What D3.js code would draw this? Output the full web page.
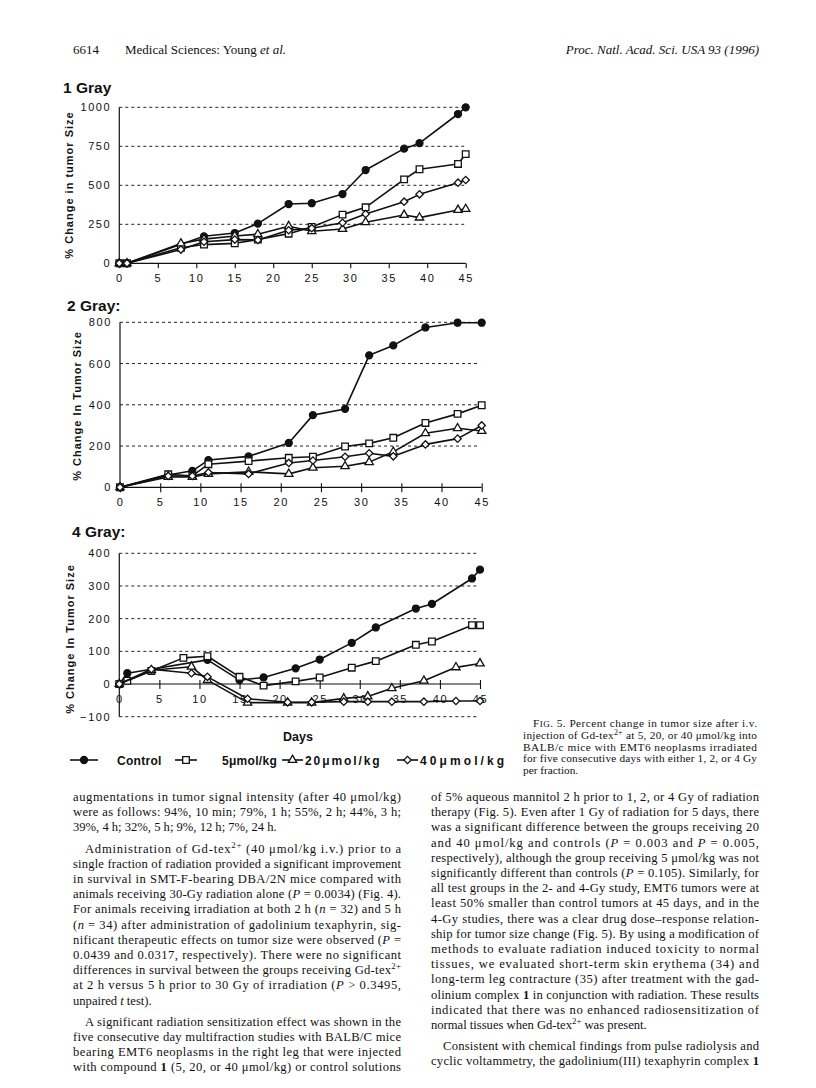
<!DOCTYPE html>
<html>
<head>
<meta charset="utf-8">
<script src="https://cdn.jsdelivr.net/npm/d3@7"></script>
<style>
  body { margin: 0; background: #fff; }
  svg { display: block; }
</style>
</head>
<body>
<script>
// ---- data (percent change in tumor size vs day) ----
const seriesNames = ["Control", "5\u03bcmol/kg", "20\u03bcmol/kg", "40\u03bcmol/kg"];
const xTickValues = [0, 5, 10, 15, 20, 25, 30, 35, 40, 45];

const gray1Days    = [0, 1, 8, 11, 15, 18, 22, 25, 29, 32, 37, 39, 44, 45];
const gray1Control = [0, 0, null, 173, 194, 254, 380, 385, 444, 598, 735, 770, 957, 1000];
const gray1Dose5   = [0, 0, 100, 120, 128, 152, 190, 233, 312, 359, 538, 603, 637, 700];
const gray1Dose20  = [0, 0, 127, 155, 175, 186, 238, 205, 220, 263, 310, 293, 342, 348];
const gray1Dose40  = [0, 0, 88, 138, 152, 150, 212, 225, 260, 316, 395, 442, 517, 534];
const gray1YTicks  = [0, 250, 500, 750, 1000];

const gray2Days    = [0, 6, 9, 11, 16, 21, 24, 28, 31, 34, 38, 42, 45];
const gray2Control = [0, 60, 80, 132, 150, 215, 350, 380, 640, 688, 775, 798, 798];
const gray2Dose5   = [0, 63, 55, 112, 127, 143, 148, 198, 213, 240, 312, 356, 398];
const gray2Dose20  = [0, 50, 50, 65, 75, 65, 95, 102, 122, 172, 262, 286, 273];
const gray2Dose40  = [0, 55, 55, 72, 65, 118, 130, 148, 165, 150, 208, 236, 300];
const gray2YTicks  = [0, 200, 400, 600, 800];

const gray4Days    = [0, 1, 4, 8, 9, 11, 15, 16, 18, 21, 22, 24, 25, 28, 29, 31, 32, 34, 37, 38, 39, 42, 44, 45];
const gray4Control = [0, 33, null, null, null, 74, 12, null, 20, null, 48, null, 75, null, 126, null, 173, null, 231, null, 245, null, 323, 350];
const gray4Dose5   = [0, 10, 40, 80, null, 85, 22, null, -5, null, 8, null, 20, null, 50, null, 70, null, 120, null, 130, null, 180, 180];
const gray4Dose20  = [0, null, 42, null, 53, 12, null, -57, null, -57, null, -57, null, -44, null, -38, null, -13, null, 10, null, 51, null, 63];
const gray4Dose40  = [0, null, 45, null, 33, 22, null, -45, null, -56, null, -56, null, -54, null, -54, null, -54, null, -54, null, -52, null, -52];
const gray4YTicks  = [-100, 0, 100, 200, 300, 400];

// ---- page layout ----
const W = 816, H = 1088;
const sans = "'Liberation Sans', Arial, Helvetica, sans-serif";
const serif = "'Liberation Serif', 'Times New Roman', Times, serif";

const svg = d3.select("body").append("svg")
    .attr("width", W).attr("height", H)
    .attr("viewBox", [0, 0, W, H]);

const panels = [
  { title: "1 Gray", tx: 63, ty: 93, days: gray1Days,
    series: [gray1Control, gray1Dose5, gray1Dose20, gray1Dose40],
    yTicks: gray1YTicks, grid: [250, 500, 750, 1000], dom: [0, 1000],
    left: 119.3, right: 465.7, top: 107.3, bottom: 263.3,
    ylab: "% Change in tumor Size", labX: 73, labY: 185, cross: false },
  { title: "2 Gray:", tx: 67, ty: 311, days: gray2Days,
    series: [gray2Control, gray2Dose5, gray2Dose20, gray2Dose40],
    yTicks: gray2YTicks, grid: [200, 400, 600, 800], dom: [0, 800],
    left: 120, right: 481.7, top: 322.3, bottom: 487.3,
    ylab: "% Change In Tumor Size", labX: 80.5, labY: 406, cross: true },
  { title: "4 Gray:", tx: 72, ty: 537, days: gray4Days,
    series: [gray4Control, gray4Dose5, gray4Dose20, gray4Dose40],
    yTicks: gray4YTicks, grid: [-100, 100, 200, 300, 400], dom: [-100, 400],
    left: 119.3, right: 480, top: 553.3, bottom: 716.7,
    ylab: "% Change In Tumor Size", labX: 74, labY: 639, cross: true }
];

const symbols = [
  { type: d3.symbolCircle, size: 38, fill: "#111", rot: 0 },
  { type: d3.symbolSquare, size: 44, fill: "#fff", rot: 0 },
  { type: d3.symbolTriangle, size: 30, fill: "#fff", rot: 0 },
  { type: d3.symbolSquare, size: 27, fill: "#fff", rot: 45 }
];

const drawMarker = (g, k, x, y) => {
  const s = symbols[k];
  g.append("path")
    .attr("d", d3.symbol().type(s.type).size(s.size)())
    .attr("transform", `translate(${x},${y}) rotate(${s.rot})`)
    .attr("fill", s.fill)
    .attr("stroke", "#111")
    .attr("stroke-width", 1.3);
};

panels.forEach(p => {
  const g = svg.append("g");
  const x = d3.scaleLinear().domain([0, 45]).range([p.left, p.right]);
  const y = d3.scaleLinear().domain(p.dom).range([p.bottom, p.top]);

  g.append("text")
    .attr("x", p.tx).attr("y", p.ty)
    .attr("font-family", sans).attr("font-weight", "bold")
    .attr("font-size", 15.5).attr("fill", "#111")
    .text(p.title);

  // dashed gridlines
  g.selectAll(".grid").data(p.grid).enter().append("line")
    .attr("x1", x(0)).attr("x2", x(44.8))
    .attr("y1", d => y(d)).attr("y2", d => y(d))
    .attr("stroke", "#222").attr("stroke-width", 1)
    .attr("stroke-dasharray", "3,3");

  // y axis
  const ya = g.append("g")
    .attr("transform", `translate(${x(0)},0)`)
    .call(d3.axisLeft(y).tickValues(p.yTicks).tickFormat(d3.format("d"))
      .tickSize(0).tickPadding(8));
  ya.select(".domain").attr("stroke", "#111").attr("stroke-width", 1.2)
    .attr("d", `M0,${y(p.dom[1])}V${y(p.dom[0])}`);
  ya.selectAll("text")
    .attr("font-family", sans).attr("font-size", 11)
    .attr("letter-spacing", 1.6).attr("fill", "#111");

  // x axis at y = 0
  const xa = g.append("g")
    .attr("transform", `translate(0,${y(0)})`)
    .call(d3.axisBottom(x).tickValues(xTickValues).tickSize(5).tickPadding(6));
  xa.select(".domain").attr("stroke", "#111").attr("stroke-width", 1.2)
    .attr("d", `M${x(0)},0H${x(45)}`);
  xa.selectAll(".tick line").attr("stroke", "#111").attr("stroke-width", 1.1)
    .attr("y1", p.cross ? -4 : 0);
  xa.selectAll("text")
    .attr("font-family", sans).attr("font-size", 11)
    .attr("letter-spacing", 1.6).attr("fill", "#111");

  // y axis title
  g.append("text")
    .attr("transform", `translate(${p.labX},${p.labY}) rotate(-90)`)
    .attr("text-anchor", "middle")
    .attr("font-family", sans).attr("font-weight", "bold")
    .attr("font-size", 11).attr("letter-spacing", 1)
    .attr("fill", "#111")
    .text(p.ylab);

  // series
  const line = d3.line().x(d => x(d[0])).y(d => y(d[1]));
  p.series.forEach((vals, k) => {
    const pts = p.days.map((d, i) => [d, vals[i]]).filter(d => d[1] != null);
    g.append("path").datum(pts)
      .attr("d", line)
      .attr("fill", "none").attr("stroke", "#111")
      .attr("stroke-width", 1.6).attr("stroke-linejoin", "round");
    pts.forEach(d => drawMarker(g, k, x(d[0]), y(d[1])));
  });
});

// x title
svg.append("text")
  .attr("x", 298).attr("y", 741)
  .attr("text-anchor", "middle")
  .attr("font-family", sans).attr("font-weight", "bold")
  .attr("font-size", 12.5).attr("fill", "#111")
  .text("Days");

// legend
const legendY = 760;
const legendItems = [
  { x0: 70, x1: 98, tx: 117, ls: 0.3 },
  { x0: 175, x1: 197, tx: 222, ls: 0.3 },
  { x0: 282, x1: 303, tx: 305, ls: 1.9 },
  { x0: 397, x1: 418, tx: 420, ls: 3.1 }
];
const lg = svg.append("g");
seriesNames.forEach((name, k) => {
  const it = legendItems[k];
  lg.append("line")
    .attr("x1", it.x0).attr("x2", it.x1)
    .attr("y1", legendY).attr("y2", legendY)
    .attr("stroke", "#111").attr("stroke-width", 1.6);
  drawMarker(lg, k, (it.x0 + it.x1) / 2, legendY);
  lg.append("text")
    .attr("x", it.tx).attr("y", legendY + 4.5)
    .attr("font-family", sans).attr("font-weight", "bold")
    .attr("font-size", 12).attr("letter-spacing", it.ls)
    .attr("fill", "#111")
    .text(name);
});

// ---- running text of the page ----
// markup: ^{..} superscript, *..* italic, **..** bold
const richText = (g, str, x, y, size, width) => {
  const t = g.append("text")
    .attr("x", x).attr("y", y)
    .attr("font-family", serif).attr("font-size", size)
    .attr("fill", "#111");
  const parts = str.split(/(\^\{[^}]*\}|\*\*[^*]+\*\*|\*[^*]+\*)/).filter(s => s);
  let raised = false;
  parts.forEach(s => {
    const ts = t.append("tspan");
    if (s.startsWith("^{")) {
      ts.text(s.slice(2, -1)).attr("dy", -size * 0.38).attr("font-size", size * 0.7);
      raised = true;
      return;
    }
    if (raised) { ts.attr("dy", size * 0.38); raised = false; }
    if (s.startsWith("**")) ts.text(s.slice(2, -2)).attr("font-weight", "bold");
    else if (s.startsWith("*")) ts.text(s.slice(1, -1)).attr("font-style", "italic");
    else ts.text(s);
  });
  if (width) t.attr("textLength", width).attr("lengthAdjust", "spacing");
  return t;
};

const tg = svg.append("g");

// running head
richText(tg, "6614", 73, 54, 13);
richText(tg, "Medical Sciences: Young *et al.*", 125, 54, 13);
richText(tg, "*Proc. Natl. Acad. Sci. USA 93 (1996)*", 0, 54, 13)
  .attr("x", 759).attr("text-anchor", "end");

// caption
const captionLines = [
  ["injection of Gd-tex^{2+} at 5, 20, or 40 \u03bcmol/kg into", true],
  ["BALB/c mice with EMT6 neoplasms irradiated", true],
  ["for five consecutive days with either 1, 2, or 4 Gy", true],
  ["per fraction.", false]
];
const capX = 523, capR = 757, capY = 727, capStep = 11.8, capSize = 11.3;
{
  const t = tg.append("text").attr("x", capX + 10).attr("y", capY)
    .attr("font-family", serif).attr("font-size", capSize).attr("fill", "#111")
    .attr("textLength", capR - capX - 10).attr("lengthAdjust", "spacing");
  t.append("tspan").text("F");
  t.append("tspan").attr("font-size", capSize * 0.8).text("IG");
  t.append("tspan").text(". 5.    Percent change in tumor size after i.v.");
}
captionLines.forEach((l, i) => {
  richText(tg, l[0], capX, capY + (i + 1) * capStep, capSize, l[1] ? capR - capX : null);
});

const leftLines = [
  ["augmentations in tumor signal intensity (after 40 \u03bcmol/kg)", 1, 0],
  ["were as follows: 94%, 10 min; 79%, 1 h; 55%, 2 h; 44%, 3 h;", 1, 0],
  ["39%, 4 h; 32%, 5 h; 9%, 12 h; 7%, 24 h.", 0, 0],
  ["Administration of Gd-tex^{2+} (40 \u03bcmol/kg i.v.) prior to a", 1, 1],
  ["single fraction of radiation provided a significant improvement", 1, 0],
  ["in survival in SMT-F-bearing DBA/2N mice compared with", 1, 0],
  ["animals receiving 30-Gy radiation alone (*P* = 0.0034) (Fig. 4).", 1, 0],
  ["For animals receiving irradiation at both 2 h (*n* = 32) and 5 h", 1, 0],
  ["(*n* = 34) after administration of gadolinium texaphyrin, sig-", 1, 0],
  ["nificant therapeutic effects on tumor size were observed (*P* =", 1, 0],
  ["0.0439 and 0.0317, respectively). There were no significant", 1, 0],
  ["differences in survival between the groups receiving Gd-tex^{2+}", 1, 0],
  ["at 2 h versus 5 h prior to 30 Gy of irradiation (*P* > 0.3495,", 1, 0],
  ["unpaired *t* test).", 0, 0],
  ["A significant radiation sensitization effect was shown in the", 1, 1],
  ["five consecutive day multifraction studies with BALB/C mice", 1, 0],
  ["bearing EMT6 neoplasms in the right leg that were injected", 1, 0],
  ["with compound **1** (5, 20, or 40 \u03bcmol/kg) or control solutions", 1, 0]
];
const rightLines = [
  ["of 5% aqueous mannitol 2 h prior to 1, 2, or 4 Gy of radiation", 1, 0],
  ["therapy (Fig. 5). Even after 1 Gy of radiation for 5 days, there", 1, 0],
  ["was a significant difference between the groups receiving 20", 1, 0],
  ["and 40 \u03bcmol/kg and controls (*P* = 0.003 and *P* = 0.005,", 1, 0],
  ["respectively), although the group receiving 5 \u03bcmol/kg was not", 1, 0],
  ["significantly different than controls (*P* = 0.105). Similarly, for", 1, 0],
  ["all test groups in the 2- and 4-Gy study, EMT6 tumors were at", 1, 0],
  ["least 50% smaller than control tumors at 45 days, and in the", 1, 0],
  ["4-Gy studies, there was a clear drug dose\u2013response relation-", 1, 0],
  ["ship for tumor size change (Fig. 5). By using a modification of", 1, 0],
  ["methods to evaluate radiation induced toxicity to normal", 1, 0],
  ["tissues, we evaluated short-term skin erythema (34) and", 1, 0],
  ["long-term leg contracture (35) after treatment with the gad-", 1, 0],
  ["olinium complex **1** in conjunction with radiation. These results", 1, 0],
  ["indicated that there was no enhanced radiosensitization of", 1, 0],
  ["normal tissues when Gd-tex^{2+} was present.", 0, 0],
  ["Consistent with chemical findings from pulse radiolysis and", 1, 1],
  ["cyclic voltammetry, the gadolinium(III) texaphyrin complex **1**", 1, 0]
];

const bodySize = 12.6, bodyStep = 15.2, bodyTop = 801, indent = 12;
const column = (lines, x0, x1) => {
  let yy = bodyTop;
  lines.forEach((l, i) => {
    if (l[2] && i > 0) yy += 6;
    const x = x0 + (l[2] ? indent : 0);
    richText(tg, l[0], x, yy, bodySize, l[1] ? x1 - x : null);
    yy += bodyStep;
  });
};
column(leftLines, 73, 401);
column(rightLines, 431, 759);
</script>
</body>
</html>
